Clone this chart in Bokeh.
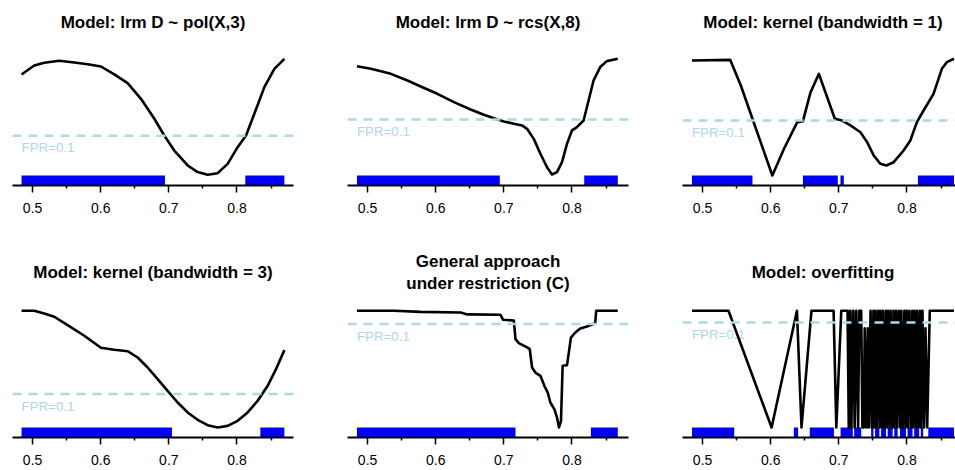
from bokeh.plotting import figure
from bokeh.layouts import gridplot
from bokeh.models import Span, FixedTicker, Range1d
from bokeh.embed import file_html
from bokeh.resources import INLINE
from bokeh.core.properties import value

# ---------------- data (y in relative units, 0 = curve minimum, 1 = curve maximum)
titles = ["Model: lrm D ~ pol(X,3)", "Model: lrm D ~ rcs(X,8)", "Model: kernel (bandwidth = 1)",
          "Model: kernel (bandwidth = 3)", "General approach\nunder restriction (C)", "Model: overfitting"]
fpr_text = "FPR=0.1"
fpr_levels = [0.34, 0.48, 0.471, 0.286, 0.886, 0.90]
tick_vals = [0.5, 0.6, 0.7, 0.8]
minor_vals = [0.55, 0.65, 0.75, 0.85]

x1 = [0.4838, 0.5024, 0.5171, 0.5392, 0.5612, 0.5808, 0.6003, 0.6199, 0.6395, 0.6591, 0.6787, 0.6933,
      0.7080, 0.7276, 0.7423, 0.7570, 0.7717, 0.7863, 0.8010, 0.8133, 0.8255, 0.8402, 0.8549, 0.8696]
y1 = [0.866, 0.943, 0.966, 0.983, 0.969, 0.954, 0.934, 0.866, 0.791, 0.657, 0.486, 0.343,
      0.214, 0.086, 0.029, 0.006, 0.020, 0.100, 0.243, 0.343, 0.529, 0.757, 0.914, 1.000]
bar1_start = [0.4838, 0.8123]
bar1_end = [0.6943, 0.8696]

x2 = [0.4844, 0.5049, 0.5341, 0.5585, 0.5780, 0.6024, 0.6268, 0.6512, 0.6707, 0.6854, 0.7000, 0.7146,
      0.7268, 0.7341, 0.7439, 0.7537, 0.7634, 0.7707, 0.7780, 0.7854, 0.7927, 0.8000, 0.8073, 0.8171,
      0.8244, 0.8317, 0.8415, 0.8512, 0.8673]
y2 = [0.937, 0.914, 0.871, 0.814, 0.763, 0.700, 0.629, 0.566, 0.520, 0.491, 0.463, 0.443,
      0.429, 0.400, 0.314, 0.186, 0.071, 0.009, 0.029, 0.114, 0.271, 0.386, 0.414, 0.471,
      0.643, 0.814, 0.929, 0.980, 1.000]
bar2_start = [0.4844, 0.8180]
bar2_end = [0.6941, 0.8673]

x3 = [0.4844, 0.5405, 0.5561, 0.5732, 0.5878, 0.6024, 0.6195, 0.6390, 0.6473, 0.6585, 0.6707, 0.6829,
      0.6941, 0.7049, 0.7171, 0.7317, 0.7415, 0.7512, 0.7610, 0.7698, 0.7805, 0.7951, 0.8049, 0.8146,
      0.8244, 0.8390, 0.8512, 0.8585, 0.8690]
y3 = [0.986, 0.991, 0.771, 0.486, 0.243, 0.000, 0.229, 0.457, 0.466, 0.714, 0.871, 0.671,
      0.486, 0.471, 0.429, 0.371, 0.286, 0.171, 0.100, 0.086, 0.114, 0.214, 0.300, 0.457,
      0.557, 0.700, 0.914, 0.971, 1.000]
bar3_start = [0.4844, 0.6473, 0.7024, 0.8161]
bar3_end = [0.5732, 0.6985, 0.7073, 0.8690]

x4 = [0.4838, 0.5024, 0.5171, 0.5318, 0.5514, 0.5759, 0.6003, 0.6199, 0.6395, 0.6542, 0.6689, 0.6836,
      0.6982, 0.7129, 0.7276, 0.7423, 0.7570, 0.7717, 0.7863, 0.8010, 0.8157, 0.8304, 0.8451, 0.8573, 0.8696]
y4 = [1.000, 1.000, 0.977, 0.949, 0.877, 0.786, 0.683, 0.666, 0.654, 0.600, 0.514, 0.414,
      0.314, 0.214, 0.129, 0.066, 0.020, 0.000, 0.014, 0.057, 0.129, 0.229, 0.357, 0.500, 0.663]
bar4_start = [0.4838, 0.8343]
bar4_end = [0.7046, 0.8696]

x5 = [0.4844, 0.5390, 0.5780, 0.6366, 0.6463, 0.6951, 0.6990, 0.7146, 0.7171, 0.7220, 0.7341, 0.7380,
      0.7415, 0.7463, 0.7537, 0.7595, 0.7644, 0.7683, 0.7741, 0.7780, 0.7810, 0.7839, 0.7863, 0.7927,
      0.7951, 0.7985, 0.8049, 0.8122, 0.8220, 0.8341, 0.8356, 0.8673]
y5 = [1.000, 1.000, 0.991, 0.986, 0.969, 0.966, 0.923, 0.917, 0.757, 0.723, 0.686, 0.671,
      0.514, 0.471, 0.443, 0.357, 0.300, 0.214, 0.157, 0.086, 0.000, 0.057, 0.529, 0.534,
      0.629, 0.771, 0.814, 0.849, 0.866, 0.894, 1.000, 1.000]
bar5_start = [0.4844, 0.8278]
bar5_end = [0.7171, 0.8673]

x6 = [0.4844, 0.5380, 0.6013, 0.6385, 0.6452, 0.6598, 0.6923, 0.6963, 0.7036, 0.7128,
      0.7146, 0.7163, 0.7185, 0.7205, 0.7214, 0.7232, 0.7256, 0.7283, 0.7300, 0.7328,
      0.7346, 0.7366, 0.7380, 0.7404, 0.7425, 0.7440, 0.7466, 0.7484, 0.7508, 0.7520,
      0.7540, 0.7556, 0.7580, 0.7598, 0.7610, 0.7632, 0.7648, 0.7668, 0.7690, 0.7705,
      0.7722, 0.7745, 0.7760, 0.7786, 0.7802, 0.7818, 0.7840, 0.7858, 0.7880, 0.7902,
      0.7918, 0.7940, 0.7962, 0.7980, 0.7997, 0.8015, 0.8036, 0.8058, 0.8078, 0.8094,
      0.8112, 0.8134, 0.8150, 0.8172, 0.8191, 0.8208, 0.8228, 0.8250, 0.8272, 0.8297,
      0.8335, 0.8690]
y6 = [1, 1, 0, 1, 0, 1, 1, 0, 1, 1,
      0, 1, 0, 1, 1, 0, 1, 0, 1, 1,
      0, 0, 0.85, 0, 0.85, 0, 1, 0, 1, 0,
      1, 0, 1, 0, 1, 0, 1, 0, 1, 0,
      1, 0, 1, 0, 1, 0, 1, 0, 1, 0,
      1, 0, 1, 0, 1, 0, 1, 0, 1, 0,
      1, 0, 1, 0, 1, 0, 1, 0, 0.85, 0,
      1, 1]
bar6_start = [0.4844, 0.6339, 0.6573, 0.7026, 0.7225, 0.7474, 0.7532, 0.7620, 0.7717, 0.7814,
              0.7898, 0.8009, 0.8106, 0.8204, 0.8313]
bar6_end = [0.5464, 0.6402, 0.6928, 0.7205, 0.7328, 0.7508, 0.7595, 0.7693, 0.7790, 0.7863,
            0.7985, 0.8082, 0.8179, 0.8238, 0.8690]

panels = [(x1, y1, bar1_start, bar1_end), (x2, y2, bar2_start, bar2_end), (x3, y3, bar3_start, bar3_end),
          (x4, y4, bar4_start, bar4_end), (x5, y5, bar5_start, bar5_end), (x6, y6, bar6_start, bar6_end)]

# ---------------- layout
FONT = "Liberation Sans"
PX = 116.7            # pixels per relative unit
BAR_PX = 10.0         # bar thickness in pixels
YB = -BAR_PX / PX
X0 = 0.4705
X_FULL_END = 0.883
X_MID = (X0 + X_FULL_END) / 2
BOTTOM = 33
widths = [335, 335, 285]
left_b = [12, 12, 12]
right_b = [42, 42, 0]
heights = [218, 252]
title_px = [163, 165]   # title centre above axis line


def make_panel(i):
    row, col = divmod(i, 3)
    xs, ys, bs, be = panels[i]
    frame_w = widths[col] - left_b[col] - right_b[col]
    x_end = X0 + frame_w * (X_FULL_END - X0) / 281.0
    frame_h = heights[row] - BOTTOM
    y_top = YB + frame_h / PX
    p = figure(width=widths[col], height=heights[row], x_range=Range1d(X0, x_end),
               y_range=Range1d(YB, y_top), output_backend="svg", toolbar_location=None,
               y_axis_location=None, min_border_left=left_b[col], min_border_right=right_b[col],
               min_border_top=0, min_border_bottom=BOTTOM)
    p.grid.visible = False
    p.outline_line_color = None
    p.background_fill_color = "white"
    p.border_fill_color = "white"

    level = fpr_levels[i]
    p.text(x=[xs[0]], y=[level - 12.0 / PX], text=[fpr_text], text_font=value(FONT),
           text_font_size="13.3px", text_color="#ADD8E6", text_align="left", text_baseline="middle")
    p.quad(left=bs, right=be, bottom=YB, top=0, fill_color="#0000FF", line_color=None)
    p.line(xs, ys, line_color="black", line_width=2.6, line_join="round")
    p.add_layout(Span(location=level, dimension="width", line_color="#ADD8E6",
                      line_width=2.5, line_dash="9 7"))
    ty = YB + title_px[row] / PX
    p.text(x=[X_MID], y=[ty], text=[titles[i]], text_font=value(FONT), text_font_style="bold",
           text_font_size="17px", text_color="black", text_align="center", text_baseline="middle",
           text_line_height=1.15)

    ax = p.xaxis[0]
    ax.ticker = FixedTicker(ticks=tick_vals, minor_ticks=minor_vals)
    ax.axis_line_width = 2
    ax.axis_line_color = "black"
    ax.major_tick_out = 7
    ax.major_tick_in = 0
    ax.minor_tick_out = 3
    ax.minor_tick_in = 0
    ax.major_tick_line_width = 1.5
    ax.minor_tick_line_width = 1.5
    ax.major_label_text_font = FONT
    ax.major_label_text_font_size = "14px"
    ax.major_label_text_color = "black"
    ax.major_label_standoff = 10
    return p


figs = [make_panel(i) for i in range(6)]
grid = gridplot([figs[0:3], figs[3:6]], toolbar_location=None)

open("out.html", "w").write(file_html(grid, INLINE))
